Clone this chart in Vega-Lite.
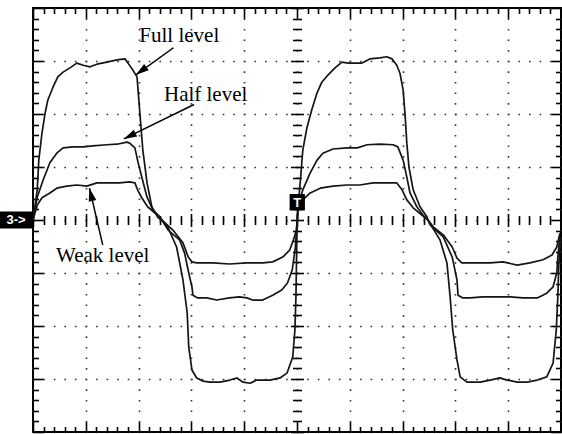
{
  "$schema": "https://vega.github.io/schema/vega-lite/v6.json",
  "width": 528,
  "height": 424,
  "autosize": {"type": "none"},
  "padding": {"left": 33, "top": 8, "right": 1, "bottom": 2},
  "background": "white",
  "config": {
    "view": {"stroke": "#000", "strokeWidth": 2},
    "axis": {"labels": false, "domain": false, "grid": false, "tickColor": "#000", "tickWidth": 1.6}
  },
  "datasets": {
    "traces": [
      {"s": "full", "t": 0, "v": 0}, {"s": "full", "t": 0.08, "v": 0.57}, {"s": "full", "t": 0.11, "v": 1.13}, {"s": "full", "t": 0.17, "v": 1.64},
      {"s": "full", "t": 0.23, "v": 2.02}, {"s": "full", "t": 0.28, "v": 2.26}, {"s": "full", "t": 0.38, "v": 2.51}, {"s": "full", "t": 0.47, "v": 2.70},
      {"s": "full", "t": 0.57, "v": 2.79}, {"s": "full", "t": 0.70, "v": 2.87}, {"s": "full", "t": 0.83, "v": 2.96}, {"s": "full", "t": 0.95, "v": 2.92},
      {"s": "full", "t": 1.08, "v": 2.89}, {"s": "full", "t": 1.21, "v": 2.94}, {"s": "full", "t": 1.40, "v": 2.98}, {"s": "full", "t": 1.59, "v": 3.02},
      {"s": "full", "t": 1.74, "v": 3.04}, {"s": "full", "t": 1.80, "v": 2.96}, {"s": "full", "t": 1.89, "v": 2.83}, {"s": "full", "t": 1.97, "v": 2.70},
      {"s": "full", "t": 1.99, "v": 2.45}, {"s": "full", "t": 2.03, "v": 1.94}, {"s": "full", "t": 2.08, "v": 1.32}, {"s": "full", "t": 2.16, "v": 0.70},
      {"s": "full", "t": 2.25, "v": 0.25}, {"s": "full", "t": 2.37, "v": 0.04}, {"s": "full", "t": 2.44, "v": 0}, {"s": "full", "t": 2.56, "v": -0.15},
      {"s": "full", "t": 2.72, "v": -0.51}, {"s": "full", "t": 2.84, "v": -1.13}, {"s": "full", "t": 2.92, "v": -1.75}, {"s": "full", "t": 2.95, "v": -2.40},
      {"s": "full", "t": 3.01, "v": -2.83}, {"s": "full", "t": 3.10, "v": -2.98}, {"s": "full", "t": 3.22, "v": -3.04}, {"s": "full", "t": 3.35, "v": -3.06},
      {"s": "full", "t": 3.54, "v": -3.06}, {"s": "full", "t": 3.73, "v": -3.02}, {"s": "full", "t": 3.86, "v": -2.98}, {"s": "full", "t": 3.98, "v": -3.06},
      {"s": "full", "t": 4.11, "v": -3.08}, {"s": "full", "t": 4.24, "v": -3.02}, {"s": "full", "t": 4.49, "v": -3.02}, {"s": "full", "t": 4.68, "v": -2.98},
      {"s": "full", "t": 4.81, "v": -2.89}, {"s": "full", "t": 4.92, "v": -2.58}, {"s": "full", "t": 4.96, "v": -2.08}, {"s": "full", "t": 4.98, "v": -1.45},
      {"s": "full", "t": 4.99, "v": -0.81}, {"s": "full", "t": 5.00, "v": -0.19}, {"s": "full", "t": 5.01, "v": 0.13}, {"s": "full", "t": 5.06, "v": 0.70},
      {"s": "full", "t": 5.11, "v": 1.32}, {"s": "full", "t": 5.19, "v": 1.75}, {"s": "full", "t": 5.28, "v": 2.08}, {"s": "full", "t": 5.38, "v": 2.40},
      {"s": "full", "t": 5.47, "v": 2.60}, {"s": "full", "t": 5.59, "v": 2.74}, {"s": "full", "t": 5.72, "v": 2.87}, {"s": "full", "t": 5.85, "v": 2.98},
      {"s": "full", "t": 5.97, "v": 2.96}, {"s": "full", "t": 6.14, "v": 2.96}, {"s": "full", "t": 6.23, "v": 2.96}, {"s": "full", "t": 6.38, "v": 3.04},
      {"s": "full", "t": 6.57, "v": 3.06}, {"s": "full", "t": 6.70, "v": 3.08}, {"s": "full", "t": 6.80, "v": 3.04}, {"s": "full", "t": 6.89, "v": 2.92},
      {"s": "full", "t": 6.95, "v": 2.77}, {"s": "full", "t": 7.01, "v": 2.45}, {"s": "full", "t": 7.05, "v": 1.94}, {"s": "full", "t": 7.08, "v": 1.45},
      {"s": "full", "t": 7.12, "v": 1.00}, {"s": "full", "t": 7.20, "v": 0.57}, {"s": "full", "t": 7.33, "v": 0.25}, {"s": "full", "t": 7.46, "v": 0.06},
      {"s": "full", "t": 7.48, "v": 0}, {"s": "full", "t": 7.71, "v": -0.38}, {"s": "full", "t": 7.84, "v": -0.81}, {"s": "full", "t": 7.90, "v": -1.45},
      {"s": "full", "t": 7.95, "v": -2.08}, {"s": "full", "t": 8.03, "v": -2.64}, {"s": "full", "t": 8.09, "v": -2.96}, {"s": "full", "t": 8.22, "v": -3.06},
      {"s": "full", "t": 8.47, "v": -3.06}, {"s": "full", "t": 8.66, "v": -3.02}, {"s": "full", "t": 8.84, "v": -2.98}, {"s": "full", "t": 8.98, "v": -3.02},
      {"s": "full", "t": 9.17, "v": -3.06}, {"s": "full", "t": 9.36, "v": -3.06}, {"s": "full", "t": 9.55, "v": -3.02}, {"s": "full", "t": 9.73, "v": -2.96},
      {"s": "full", "t": 9.85, "v": -2.70}, {"s": "full", "t": 9.91, "v": -2.08}, {"s": "full", "t": 9.94, "v": -1.45}, {"s": "full", "t": 9.96, "v": -0.81},
      {"s": "full", "t": 10.0, "v": -0.32},

      {"s": "half", "t": 0, "v": 0}, {"s": "half", "t": 0.08, "v": 0.43}, {"s": "half", "t": 0.19, "v": 0.75}, {"s": "half", "t": 0.32, "v": 1.08},
      {"s": "half", "t": 0.45, "v": 1.26}, {"s": "half", "t": 0.57, "v": 1.36}, {"s": "half", "t": 0.76, "v": 1.38}, {"s": "half", "t": 0.95, "v": 1.38},
      {"s": "half", "t": 1.13, "v": 1.40}, {"s": "half", "t": 1.40, "v": 1.42}, {"s": "half", "t": 1.59, "v": 1.43}, {"s": "half", "t": 1.78, "v": 1.47},
      {"s": "half", "t": 1.83, "v": 1.45}, {"s": "half", "t": 1.93, "v": 1.36}, {"s": "half", "t": 1.98, "v": 1.13}, {"s": "half", "t": 2.06, "v": 0.81},
      {"s": "half", "t": 2.16, "v": 0.43}, {"s": "half", "t": 2.27, "v": 0.19}, {"s": "half", "t": 2.40, "v": 0.06}, {"s": "half", "t": 2.44, "v": 0},
      {"s": "half", "t": 2.56, "v": -0.19}, {"s": "half", "t": 2.78, "v": -0.38}, {"s": "half", "t": 2.87, "v": -0.62}, {"s": "half", "t": 2.95, "v": -1.00},
      {"s": "half", "t": 3.01, "v": -1.26}, {"s": "half", "t": 3.03, "v": -1.42}, {"s": "half", "t": 3.12, "v": -1.47}, {"s": "half", "t": 3.29, "v": -1.47},
      {"s": "half", "t": 3.48, "v": -1.51}, {"s": "half", "t": 3.72, "v": -1.47}, {"s": "half", "t": 3.91, "v": -1.45}, {"s": "half", "t": 4.05, "v": -1.47},
      {"s": "half", "t": 4.16, "v": -1.51}, {"s": "half", "t": 4.35, "v": -1.51}, {"s": "half", "t": 4.54, "v": -1.42}, {"s": "half", "t": 4.71, "v": -1.32},
      {"s": "half", "t": 4.82, "v": -1.19}, {"s": "half", "t": 4.91, "v": -0.94}, {"s": "half", "t": 4.97, "v": -0.51}, {"s": "half", "t": 4.99, "v": -0.19},
      {"s": "half", "t": 5.02, "v": 0.25}, {"s": "half", "t": 5.11, "v": 0.57}, {"s": "half", "t": 5.25, "v": 0.89}, {"s": "half", "t": 5.38, "v": 1.13},
      {"s": "half", "t": 5.49, "v": 1.26}, {"s": "half", "t": 5.68, "v": 1.34}, {"s": "half", "t": 5.95, "v": 1.36}, {"s": "half", "t": 6.14, "v": 1.36},
      {"s": "half", "t": 6.33, "v": 1.42}, {"s": "half", "t": 6.57, "v": 1.43}, {"s": "half", "t": 6.82, "v": 1.42}, {"s": "half", "t": 6.91, "v": 1.38},
      {"s": "half", "t": 7.01, "v": 1.13}, {"s": "half", "t": 7.08, "v": 0.81}, {"s": "half", "t": 7.14, "v": 0.51}, {"s": "half", "t": 7.27, "v": 0.25},
      {"s": "half", "t": 7.39, "v": 0.09}, {"s": "half", "t": 7.48, "v": 0}, {"s": "half", "t": 7.52, "v": -0.09}, {"s": "half", "t": 7.77, "v": -0.32},
      {"s": "half", "t": 7.94, "v": -0.70}, {"s": "half", "t": 8.03, "v": -1.13}, {"s": "half", "t": 8.05, "v": -1.42}, {"s": "half", "t": 8.14, "v": -1.47},
      {"s": "half", "t": 8.28, "v": -1.47}, {"s": "half", "t": 8.52, "v": -1.45}, {"s": "half", "t": 8.79, "v": -1.45}, {"s": "half", "t": 9.03, "v": -1.45},
      {"s": "half", "t": 9.28, "v": -1.47}, {"s": "half", "t": 9.55, "v": -1.47}, {"s": "half", "t": 9.73, "v": -1.38}, {"s": "half", "t": 9.85, "v": -1.26},
      {"s": "half", "t": 9.92, "v": -1.00}, {"s": "half", "t": 9.94, "v": -0.70}, {"s": "half", "t": 9.98, "v": -0.32},

      {"s": "weak", "t": 0, "v": 0}, {"s": "weak", "t": 0.08, "v": 0.28}, {"s": "weak", "t": 0.17, "v": 0.42}, {"s": "weak", "t": 0.32, "v": 0.51},
      {"s": "weak", "t": 0.45, "v": 0.60}, {"s": "weak", "t": 0.64, "v": 0.64}, {"s": "weak", "t": 0.83, "v": 0.66}, {"s": "weak", "t": 1.02, "v": 0.64},
      {"s": "weak", "t": 1.21, "v": 0.70}, {"s": "weak", "t": 1.46, "v": 0.70}, {"s": "weak", "t": 1.64, "v": 0.70}, {"s": "weak", "t": 1.83, "v": 0.72},
      {"s": "weak", "t": 1.93, "v": 0.70}, {"s": "weak", "t": 1.98, "v": 0.57}, {"s": "weak", "t": 2.06, "v": 0.42}, {"s": "weak", "t": 2.17, "v": 0.25},
      {"s": "weak", "t": 2.31, "v": 0.13}, {"s": "weak", "t": 2.40, "v": 0.06}, {"s": "weak", "t": 2.44, "v": 0}, {"s": "weak", "t": 2.65, "v": -0.19},
      {"s": "weak", "t": 2.84, "v": -0.43}, {"s": "weak", "t": 2.94, "v": -0.70}, {"s": "weak", "t": 3.01, "v": -0.79}, {"s": "weak", "t": 3.10, "v": -0.81},
      {"s": "weak", "t": 3.40, "v": -0.81}, {"s": "weak", "t": 3.72, "v": -0.83}, {"s": "weak", "t": 4.05, "v": -0.81}, {"s": "weak", "t": 4.35, "v": -0.81},
      {"s": "weak", "t": 4.54, "v": -0.79}, {"s": "weak", "t": 4.73, "v": -0.70}, {"s": "weak", "t": 4.86, "v": -0.57}, {"s": "weak", "t": 4.93, "v": -0.38},
      {"s": "weak", "t": 4.99, "v": -0.19}, {"s": "weak", "t": 5.02, "v": 0.19}, {"s": "weak", "t": 5.11, "v": 0.38}, {"s": "weak", "t": 5.25, "v": 0.51},
      {"s": "weak", "t": 5.44, "v": 0.60}, {"s": "weak", "t": 5.68, "v": 0.64}, {"s": "weak", "t": 5.95, "v": 0.66}, {"s": "weak", "t": 6.19, "v": 0.66},
      {"s": "weak", "t": 6.44, "v": 0.70}, {"s": "weak", "t": 6.70, "v": 0.70}, {"s": "weak", "t": 6.89, "v": 0.70}, {"s": "weak", "t": 6.99, "v": 0.57},
      {"s": "weak", "t": 7.08, "v": 0.38}, {"s": "weak", "t": 7.20, "v": 0.23}, {"s": "weak", "t": 7.37, "v": 0.09}, {"s": "weak", "t": 7.48, "v": 0},
      {"s": "weak", "t": 7.58, "v": -0.13}, {"s": "weak", "t": 7.77, "v": -0.28}, {"s": "weak", "t": 7.94, "v": -0.51}, {"s": "weak", "t": 8.03, "v": -0.72},
      {"s": "weak", "t": 8.12, "v": -0.81}, {"s": "weak", "t": 8.41, "v": -0.81}, {"s": "weak", "t": 8.66, "v": -0.81}, {"s": "weak", "t": 8.90, "v": -0.79},
      {"s": "weak", "t": 9.17, "v": -0.85}, {"s": "weak", "t": 9.41, "v": -0.81}, {"s": "weak", "t": 9.66, "v": -0.75}, {"s": "weak", "t": 9.83, "v": -0.66},
      {"s": "weak", "t": 9.92, "v": -0.51}, {"s": "weak", "t": 9.98, "v": -0.25}
    ],
    "annotations": [
      {"label": "Full level", "tx": 2.77, "ty": 3.36, "x0": 2.66, "y0": 3.25, "x1": 1.95, "y1": 2.74},
      {"label": "Half level", "tx": 3.27, "ty": 2.25, "x0": 3.05, "y0": 2.18, "x1": 1.72, "y1": 1.53},
      {"label": "Weak level", "tx": 1.32, "ty": -0.79, "x0": 1.32, "y0": -0.47, "x1": 1.07, "y1": 0.60}
    ],
    "markers": [
      {"tag": "3->", "x": -0.625, "x2": 0, "y": -0.16, "y2": 0.16, "tx": -0.32, "ty": 0},
      {"tag": "T", "x": 4.86, "x2": 5.15, "y": 0.18, "y2": 0.49, "tx": 5.005, "ty": 0.33}
    ]
  },
  "resolve": {"axis": {"x": "independent", "y": "independent"}},
  "layer": [
    {
      "mark": {"type": "rule", "stroke": "#000", "strokeWidth": 1.7},
      "encoding": {
        "x": {"datum": 5, "type": "quantitative", "scale": {"domain": [0, 10], "nice": false, "zero": false}, "axis": null}
      }
    },
    {
      "mark": {"type": "rule", "stroke": "#000", "strokeWidth": 1.7},
      "encoding": {
        "y": {"datum": 0, "type": "quantitative", "scale": {"domain": [-4, 4], "nice": false, "zero": false}, "axis": null}
      }
    },
    {
      "data": {"name": "traces"},
      "mark": {"type": "line", "stroke": "#151515", "strokeWidth": 1.7, "strokeJoin": "round"},
      "encoding": {
        "x": {
          "field": "t", "type": "quantitative",
          "scale": {"domain": [0, 10], "nice": false, "zero": false},
          "axis": {
            "orient": "bottom", "title": null, "zindex": 0,
            "values": [0,0.2,0.4,0.6,0.8,1,1.2,1.4,1.6,1.8,2,2.2,2.4,2.6,2.8,3,3.2,3.4,3.6,3.8,4,4.2,4.4,4.6,4.8,5,5.2,5.4,5.6,5.8,6,6.2,6.4,6.6,6.8,7,7.2,7.4,7.6,7.8,8,8.2,8.4,8.6,8.8,9,9.2,9.4,9.6,9.8,10],
            "tickSize": {"condition": {"test": "datum.value % 1 === 0", "value": -10}, "value": -5.5},
            "grid": true, "gridColor": "#333", "gridWidth": 1.6, "gridDash": [1.6, 9.0], "gridDashOffset": 0.8,
            "gridOpacity": {"condition": {"test": "datum.value % 1 === 0", "value": 1}, "value": 0}
          }
        },
        "y": {
          "field": "v", "type": "quantitative",
          "scale": {"domain": [-4, 4], "nice": false, "zero": false},
          "axis": {
            "orient": "left", "title": null, "zindex": 0,
            "values": [-4,-3.8,-3.6,-3.4,-3.2,-3,-2.8,-2.6,-2.4,-2.2,-2,-1.8,-1.6,-1.4,-1.2,-1,-0.8,-0.6,-0.4,-0.2,0,0.2,0.4,0.6,0.8,1,1.2,1.4,1.6,1.8,2,2.2,2.4,2.6,2.8,3,3.2,3.4,3.6,3.8,4],
            "tickSize": {"condition": {"test": "datum.value % 1 === 0", "value": -10}, "value": -5.5},
            "grid": true, "gridColor": "#333", "gridWidth": 1.6, "gridDash": [1.6, 8.96], "gridDashOffset": 0.8,
            "gridOpacity": {"condition": {"test": "datum.value % 1 === 0", "value": 1}, "value": 0}
          }
        },
        "detail": {"field": "s", "type": "nominal"}
      }
    },
    {
      "data": {"name": "markers"},
      "mark": {"type": "rect", "fill": "#000"},
      "encoding": {
        "x": {
          "field": "x", "type": "quantitative",
          "scale": {"domain": [0, 10], "nice": false, "zero": false},
          "axis": {
            "orient": "top", "title": null,
            "values": [0,0.2,0.4,0.6,0.8,1,1.2,1.4,1.6,1.8,2,2.2,2.4,2.6,2.8,3,3.2,3.4,3.6,3.8,4,4.2,4.4,4.6,4.8,5,5.2,5.4,5.6,5.8,6,6.2,6.4,6.6,6.8,7,7.2,7.4,7.6,7.8,8,8.2,8.4,8.6,8.8,9,9.2,9.4,9.6,9.8,10],
            "tickSize": {"condition": {"test": "datum.value % 1 === 0", "value": -10}, "value": -5.5}
          }
        },
        "x2": {"field": "x2"},
        "y": {
          "field": "y", "type": "quantitative",
          "scale": {"domain": [-4, 4], "nice": false, "zero": false},
          "axis": {
            "orient": "right", "title": null,
            "values": [-4,-3.8,-3.6,-3.4,-3.2,-3,-2.8,-2.6,-2.4,-2.2,-2,-1.8,-1.6,-1.4,-1.2,-1,-0.8,-0.6,-0.4,-0.2,0,0.2,0.4,0.6,0.8,1,1.2,1.4,1.6,1.8,2,2.2,2.4,2.6,2.8,3,3.2,3.4,3.6,3.8,4],
            "tickSize": {"condition": {"test": "datum.value % 1 === 0", "value": -10}, "value": -5.5}
          }
        },
        "y2": {"field": "y2"}
      }
    },
    {
      "data": {"name": "markers"},
      "mark": {"type": "text", "font": "Liberation Sans", "fontSize": 13, "fontWeight": "bold", "fill": "#fff", "align": "center", "baseline": "middle"},
      "encoding": {
        "x": {"field": "tx", "type": "quantitative", "scale": {"domain": [0, 10], "nice": false, "zero": false}, "axis": null},
        "y": {"field": "ty", "type": "quantitative", "scale": {"domain": [-4, 4], "nice": false, "zero": false}, "axis": null},
        "text": {"field": "tag"}
      }
    },
    {
      "data": {"name": "annotations"},
      "mark": {"type": "rule", "stroke": "#000", "strokeWidth": 1.5},
      "encoding": {
        "x": {
          "field": "x0", "type": "quantitative",
          "scale": {"domain": [0, 10], "nice": false, "zero": false},
          "axis": {
            "orient": "bottom", "offset": -212, "title": null,
            "values": [0,0.2,0.4,0.6,0.8,1,1.2,1.4,1.6,1.8,2,2.2,2.4,2.6,2.8,3,3.2,3.4,3.6,3.8,4,4.2,4.4,4.6,4.8,5,5.2,5.4,5.6,5.8,6,6.2,6.4,6.6,6.8,7,7.2,7.4,7.6,7.8,8,8.2,8.4,8.6,8.8,9,9.2,9.4,9.6,9.8,10],
            "tickSize": {"condition": {"test": "datum.value % 1 === 0", "value": -6.5}, "value": -4.5}
          }
        },
        "x2": {"field": "x1"},
        "y": {
          "field": "y0", "type": "quantitative",
          "scale": {"domain": [-4, 4], "nice": false, "zero": false},
          "axis": {
            "orient": "right", "offset": -264, "title": null,
            "values": [-4,-3.8,-3.6,-3.4,-3.2,-3,-2.8,-2.6,-2.4,-2.2,-2,-1.8,-1.6,-1.4,-1.2,-1,-0.8,-0.6,-0.4,-0.2,0,0.2,0.4,0.6,0.8,1,1.2,1.4,1.6,1.8,2,2.2,2.4,2.6,2.8,3,3.2,3.4,3.6,3.8,4],
            "tickSize": {"condition": {"test": "datum.value % 1 === 0", "value": -6.5}, "value": -4.5}
          }
        },
        "y2": {"field": "y1"}
      }
    },
    {
      "data": {"name": "annotations"},
      "mark": {"type": "text", "font": "Liberation Serif", "fontSize": 21, "fill": "#000", "align": "center", "baseline": "alphabetic"},
      "encoding": {
        "x": {
          "field": "tx", "type": "quantitative",
          "scale": {"domain": [0, 10], "nice": false, "zero": false},
          "axis": {
            "orient": "top", "offset": -212, "title": null,
            "values": [0,0.2,0.4,0.6,0.8,1,1.2,1.4,1.6,1.8,2,2.2,2.4,2.6,2.8,3,3.2,3.4,3.6,3.8,4,4.2,4.4,4.6,4.8,5,5.2,5.4,5.6,5.8,6,6.2,6.4,6.6,6.8,7,7.2,7.4,7.6,7.8,8,8.2,8.4,8.6,8.8,9,9.2,9.4,9.6,9.8,10],
            "tickSize": {"condition": {"test": "datum.value % 1 === 0", "value": -6.5}, "value": -4.5}
          }
        },
        "y": {
          "field": "ty", "type": "quantitative",
          "scale": {"domain": [-4, 4], "nice": false, "zero": false},
          "axis": {
            "orient": "left", "offset": -264, "title": null,
            "values": [-4,-3.8,-3.6,-3.4,-3.2,-3,-2.8,-2.6,-2.4,-2.2,-2,-1.8,-1.6,-1.4,-1.2,-1,-0.8,-0.6,-0.4,-0.2,0,0.2,0.4,0.6,0.8,1,1.2,1.4,1.6,1.8,2,2.2,2.4,2.6,2.8,3,3.2,3.4,3.6,3.8,4],
            "tickSize": {"condition": {"test": "datum.value % 1 === 0", "value": -6.5}, "value": -4.5}
          }
        },
        "text": {"field": "label"}
      }
    },
    {
      "data": {"name": "annotations"},
      "transform": [{"filter": "datum.label === 'Full level'"}],
      "mark": {"type": "point", "shape": "M0,0L-0.3,1L0.3,1Z", "size": 676, "angle": 233.8, "filled": true, "fill": "#000", "opacity": 1, "strokeWidth": 0},
      "encoding": {
        "x": {"field": "x1", "type": "quantitative", "scale": {"domain": [0, 10], "nice": false, "zero": false}, "axis": null},
        "y": {"field": "y1", "type": "quantitative", "scale": {"domain": [-4, 4], "nice": false, "zero": false}, "axis": null}
      }
    },
    {
      "data": {"name": "annotations"},
      "transform": [{"filter": "datum.label === 'Half level'"}],
      "mark": {"type": "point", "shape": "M0,0L-0.3,1L0.3,1Z", "size": 676, "angle": 243.6, "filled": true, "fill": "#000", "opacity": 1, "strokeWidth": 0},
      "encoding": {
        "x": {"field": "x1", "type": "quantitative", "scale": {"domain": [0, 10], "nice": false, "zero": false}, "axis": null},
        "y": {"field": "y1", "type": "quantitative", "scale": {"domain": [-4, 4], "nice": false, "zero": false}, "axis": null}
      }
    },
    {
      "data": {"name": "annotations"},
      "transform": [{"filter": "datum.label === 'Weak level'"}],
      "mark": {"type": "point", "shape": "M0,0L-0.3,1L0.3,1Z", "size": 676, "angle": 346.7, "filled": true, "fill": "#000", "opacity": 1, "strokeWidth": 0},
      "encoding": {
        "x": {"field": "x1", "type": "quantitative", "scale": {"domain": [0, 10], "nice": false, "zero": false}, "axis": null},
        "y": {"field": "y1", "type": "quantitative", "scale": {"domain": [-4, 4], "nice": false, "zero": false}, "axis": null}
      }
    }
  ]
}
